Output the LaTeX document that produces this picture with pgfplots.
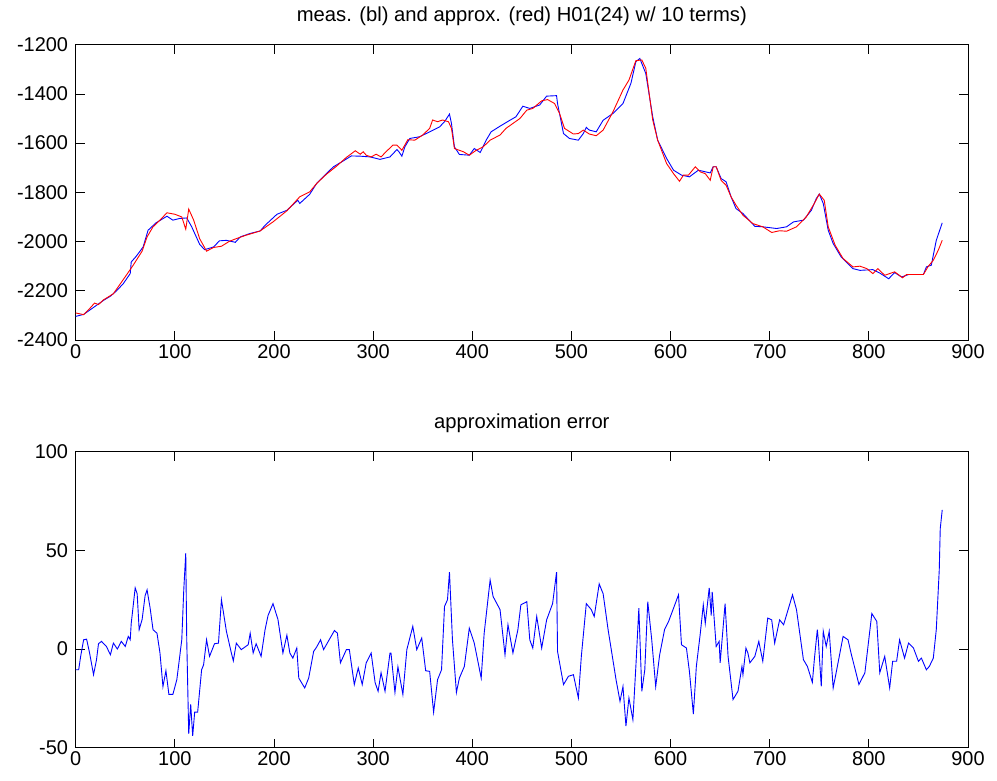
\documentclass[border=0pt]{standalone}
\usepackage{fontspec}
\setmainfont{Liberation Sans}
\usepackage{pgfplots}
\pgfplotsset{compat=1.18}
\usetikzlibrary{calc}

\pgfplotsset{
  matlab/.style={
    scale only axis, width=892.3bp,
    xmin=0, xmax=900, xtick={0,100,...,900},
    tick pos=both, tick align=inside, major tick length=9bp,
    axis line style={black, line width=0.8bp},
    every tick/.style={black, line width=0.8bp},
    tick label style={font=\fontsize{20}{23}\selectfont},
    /pgf/number format/assume math mode=true,
    /pgf/number format/1000 sep={},
    scaled ticks=false,
    xticklabel style={anchor=north, inner sep=0pt, yshift=-4bp},
    yticklabel style={anchor=east, inner sep=0pt, xshift=-7.5bp},
    title style={font=\fontsize{20.3}{23}\selectfont, anchor=base, at={(0.5,1)}, yshift=17.3bp, inner sep=0pt},
  }
}

\begin{document}
\begin{tikzpicture}
\begin{axis}[matlab, height=295.3bp,
  ymin=-2400, ymax=-1200, ytick={-2400,-2200,...,-1200},
  title={meas. (bl) and approx. (red) H01(24) w/ 10 terms)}]
\coordinate (tl) at (rel axis cs:0,1);
\addplot[blue, line width=0.9bp] coordinates {
(0,-2304) (8,-2296) (14,-2279) (21,-2259) (28,-2239) (35,-2222) (41,-2201) (48,-2171) (55,-2130) (56,-2083) (61,-2060) (68,-2022) (73,-1954) (81,-1924) (92,-1897) (98,-1913) (105,-1906) (112,-1904) (117,-1940) (125,-2011) (130,-2033) (139,-2022) (145,-1997) (152,-1995) (161,-2003) (166,-1981) (176,-1967) (186,-1957) (191,-1934) (203,-1889) (213,-1873) (224,-1832) (226,-1845) (236,-1808) (243,-1764) (253,-1723) (260,-1696) (270,-1672) (278,-1652) (287,-1653) (297,-1656) (307,-1666) (317,-1656) (324,-1626) (326,-1635) (329,-1653) (332,-1615) (337,-1581) (347,-1574) (357,-1554) (367,-1534) (372,-1513) (377,-1482) (379,-1520) (382,-1615) (387,-1646) (397,-1649) (402,-1622) (408,-1638) (414,-1588) (419,-1554) (428,-1531) (438,-1507) (444,-1493) (451,-1450) (458,-1459) (468,-1445) (475,-1409) (485,-1407) (486,-1439) (492,-1561) (498,-1581) (507,-1588) (512,-1561) (515,-1536) (518,-1547) (525,-1554) (532,-1507) (542,-1479) (552,-1439) (560,-1357) (565,-1269) (569,-1256) (575,-1317) (582,-1493) (587,-1588) (596,-1662) (603,-1710) (611,-1730) (619,-1737) (628,-1710) (640,-1721) (643,-1696) (646,-1696) (651,-1744) (656,-1757) (661,-1818) (666,-1866) (673,-1886) (685,-1938) (693,-1940) (707,-1947) (717,-1940) (724,-1920) (734,-1913) (742,-1873) (747,-1825) (750,-1807) (754,-1845) (759,-1954) (764,-2008) (772,-2062) (784,-2110) (791,-2117) (804,-2114) (811,-2128) (820,-2151) (826,-2126) (833,-2144) (840,-2134) (855,-2134) (858,-2103) (863,-2096) (868,-1995) (874,-1924)
};
\addplot[red, line width=0.9bp] coordinates {
(0,-2290) (8,-2297) (13,-2277) (19,-2250) (23,-2256) (28,-2237) (38,-2212) (51,-2137) (58,-2096) (67,-2039) (72,-1981) (78,-1940) (85,-1913) (92,-1883) (100,-1889) (107,-1900) (111,-1950) (114,-1868) (119,-1913) (125,-1988) (132,-2039) (139,-2024) (147,-2019) (155,-1999) (162,-1988) (172,-1974) (186,-1957) (199,-1920) (213,-1875) (226,-1818) (236,-1798) (243,-1764) (253,-1726) (263,-1694) (273,-1658) (282,-1631) (287,-1645) (290,-1635) (293,-1649) (298,-1656) (303,-1645) (308,-1656) (313,-1635) (320,-1608) (324,-1608) (329,-1629) (335,-1586) (342,-1588) (350,-1567) (357,-1540) (360,-1506) (365,-1513) (370,-1506) (376,-1513) (379,-1540) (382,-1622) (391,-1635) (397,-1649) (404,-1629) (411,-1615) (418,-1588) (428,-1567) (434,-1540) (441,-1520) (448,-1500) (455,-1466) (461,-1459) (470,-1428) (476,-1423) (483,-1439) (488,-1479) (493,-1540) (502,-1563) (507,-1561) (512,-1547) (518,-1563) (525,-1570) (532,-1547) (542,-1472) (552,-1384) (558,-1344) (565,-1265) (571,-1262) (575,-1296) (582,-1506) (587,-1588) (596,-1683) (603,-1724) (609,-1755) (613,-1730) (618,-1730) (625,-1696) (630,-1717) (635,-1724) (640,-1751) (643,-1696) (646,-1696) (651,-1751) (656,-1771) (661,-1818) (666,-1852) (673,-1893) (683,-1927) (693,-1940) (702,-1963) (710,-1956) (717,-1958) (727,-1940) (737,-1899) (745,-1845) (750,-1807) (755,-1832) (759,-1940) (766,-2015) (774,-2069) (784,-2103) (791,-2100) (798,-2110) (804,-2130) (809,-2110) (816,-2137) (826,-2123) (834,-2147) (838,-2134) (855,-2134) (860,-2100) (865,-2076) (870,-2035) (874,-1995)
};
\end{axis}

\begin{axis}[matlab, height=296bp, at={(0,-407.7bp)},
  ymin=-50, ymax=100, ytick={-50,0,50,100},
  title={approximation error}]
\coordinate (br) at (rel axis cs:1,0);
\addplot[blue, line width=0.9bp] coordinates {
(0,-10.5) (3,-10.5) (5,-3.7) (8,4.7) (11,5) (14,-2) (18,-13) (21,-5.4) (23,2.7) (26,3.9) (31,1.3) (35,-2.9) (38,3) (42,0) (46,3.9) (50,1.3) (53,6.4) (55,4.7) (56,13) (60,31) (62,28) (64,9.8) (67,15) (70,27) (72,30) (75,21) (78,9.8) (82,8) (85,-2) (88,-19) (91,-11) (94,-23) (98,-23) (102,-15.5) (107,4.7) (109,30) (111,48.6) (112,4.7) (114,-43) (116,-28) (118,-44) (120,-32) (123,-32) (127,-10.5) (129,-8) (132,4.7) (135,-3.7) (140,2.7) (144,3) (147,25) (152,9) (157,-2) (159,-6) (162,3) (167,-0.3) (174,2.2) (176,8) (179,-2) (182,2.7) (187,-3.7) (191,9.8) (194,17) (199,23) (204,15) (209,-2) (213,7) (216,-2) (219,-4.6) (223,0.5) (225,-14.7) (231,-19.7) (235,-14.7) (240,-1.2) (243,1) (247,4.7) (250,-0.3) (256,5) (261,9.4) (264,8) (267,-7) (273,-0.3) (276,-0.3) (281,-18) (285,-9.6) (289,-18) (293,-7) (298,-2) (302,-17) (305,-21.4) (308,-12) (312,-21.4) (317,-2) (318,-2) (322,-22) (325,-9) (330,-23) (334,-0.3) (340,11.5) (344,-0.3) (349,5.6) (353,-11) (357,-11.3) (361,-32) (365,-15.5) (369,-10.5) (372,21.6) (375,25) (377,39) (380,4.7) (384,-22) (387,-14.7) (392,-8.8) (397,10.6) (402,3) (409,-14.7) (412,8) (418,35) (421,26.6) (428,20) (433,-2.9) (436,12.3) (441,-2) (446,9.8) (449,22.4) (455,24) (458,4.7) (461,0.5) (465,16.5) (470,0.5) (475,14.8) (481,23) (485,39) (486,-1.2) (492,-18) (497,-13.8) (502,-13) (507,-24.8) (510,-3.7) (515,23) (520,20) (523,16.5) (528,33) (532,28) (537,9.8) (545,-15.5) (549,-26.5) (552,-19) (555,-39) (558,-24.8) (562,-35.8) (565,-8.8) (568,20.7) (571,-21.4) (574,-10.5) (577,24) (581,4.7) (585,-19) (589,-2.9) (594,10) (598,14) (603,20.7) (608,27.5) (611,2.2) (616,0.5) (619,-11.3) (623,-33) (626,-8.8) (630,8) (633,22.4) (635,13) (639,31) (641,17) (642,29) (646,1.3) (649,3.9) (650,-7) (655,23) (658,-3.7) (663,-25.6) (668,-21.4) (672,-8.8) (673,-13) (676,0.5) (678,-2) (680,-7) (685,-3.7) (689,3.9) (693,-6.2) (698,15.7) (702,14.8) (705,3) (710,14.8) (714,12.3) (723,27.5) (727,20) (734,-5.4) (738,-8.8) (743,-16.9) (745,-5.4) (748,9.8) (749,4.7) (752,-18.9) (754,9) (757,1.3) (760,9) (764,-19.7) (767,-12) (774,6.4) (779,4.7) (782,-2) (790,-18) (796,-12) (803,18) (808,14) (811,-12) (816,-3.7) (821,-19.7) (824,-6.2) (828,-6.2) (831,4.7) (836,-4.6) (840,3) (845,0.5) (850,-6.2) (853,-4.6) (858,-10.5) (861,-8.8) (865,-4.6) (868,9.8) (871,40) (872,61) (874,70.5)
};
\end{axis}
\pgfresetboundingbox
\path[use as bounding box] ($(tl)+(-75.7bp,44.7bp)$) rectangle ($(br)+(29bp,-32.3bp)$);
\end{tikzpicture}
\end{document}
